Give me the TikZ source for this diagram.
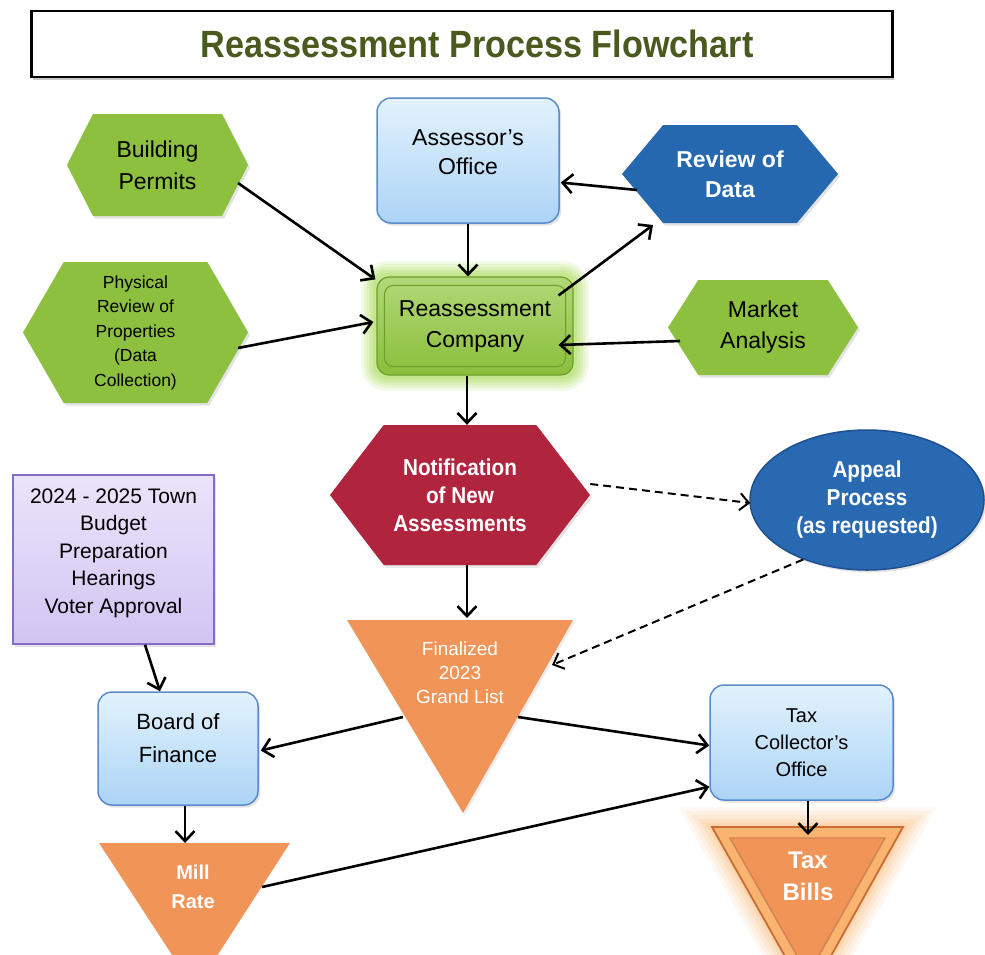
\documentclass[tikz,border=0pt]{standalone}
\usepackage{fontspec}
\setmainfont{Liberation Sans}
\newfontfamily\narrowfont[FakeStretch=0.9]{Liberation Sans}
\usetikzlibrary{arrows.meta,shapes.symbols,shapes.geometric,calc,shadows}
\definecolor{titlegreen}{RGB}{74,90,30}
\definecolor{hexgreen}{RGB}{141,192,62}
\definecolor{hexblue}{RGB}{38,104,176}
\definecolor{hexred}{RGB}{176,36,62}
\definecolor{appealblue}{RGB}{40,105,178}
\definecolor{appealedge}{RGB}{30,80,145}
\definecolor{boxtop}{RGB}{226,242,253}
\definecolor{boxbot}{RGB}{172,212,246}
\definecolor{boxedge}{RGB}{90,140,205}
\definecolor{lavtop}{RGB}{235,228,250}
\definecolor{lavbot}{RGB}{210,196,243}
\definecolor{lavedge}{RGB}{130,108,200}
\definecolor{orangefill}{RGB}{240,148,88}
\definecolor{orangelight}{RGB}{248,180,112}
\definecolor{orangeedge}{RGB}{200,108,52}
\definecolor{rcgreen}{RGB}{145,200,62}
\definecolor{rcedge}{RGB}{108,158,42}
\definecolor{glowgreen}{RGB}{180,222,110}
\definecolor{gloworange}{RGB}{250,190,130}
\begin{document}
\begin{tikzpicture}[x=1pt,y=-1pt,
  arr/.style={line width=2.6pt, -{Straight Barb[length=10pt,width=19pt]}},
  dasharr/.style={line width=2pt, dash pattern=on 8pt off 5pt, -{Straight Barb[length=9pt,width=17pt]}},
  shad/.style={drop shadow={opacity=0.22,shadow xshift=2pt,shadow yshift=-2.5pt}},
  hexnode/.style={signal, signal to=west and east, inner sep=0pt, align=center, shad},
  greenhex/.style={hexnode, fill=hexgreen, text=black},
  bluebox/.style={rectangle, rounded corners=14pt, draw=boxedge, line width=1.5pt, top color=boxtop, bottom color=boxbot, align=center, inner sep=0pt, shad},
  whitetxt/.style={text=white, align=center, inner sep=0pt},
]
\useasboundingbox (0,0) rectangle (985,954);
\clip (0,0) rectangle (985,954);

% title
\node[draw=black, line width=2.5pt, minimum width=861pt, minimum height=66pt, inner sep=0pt, fill=white,
  drop shadow={opacity=0.45,shadow xshift=1.5pt,shadow yshift=-2.5pt},
  font=\narrowfont\bfseries\fontsize{38}{40}\selectfont, text=titlegreen] (title) at (462,44) {\hspace*{30pt}Reassessment Process Flowchart};

% green hexagons
\node[greenhex, minimum width=181pt, minimum height=102pt, signal pointer angle=126,
  font=\fontsize{23}{32}\selectfont] (bp) at (157.5,165) {Building\\Permits};
\node[greenhex, minimum width=225pt, minimum height=141pt, signal pointer angle=120,
  font=\fontsize{17.5}{24.5}\selectfont] (pr) at (135.5,332.5) {Physical\\Review of\\Properties\\(Data\\Collection)};
\node[greenhex, minimum width=190pt, minimum height=95pt, signal pointer angle=115,
  font=\fontsize{23}{31}\selectfont] (ma) at (763,327.5) {Market\\Analysis};

% Assessor's office
\node[bluebox, minimum width=182pt, minimum height=125pt, text depth=16pt,
  font=\fontsize{23}{29}\selectfont] (ao) at (468,160.5) {Assessor’s\\Office};

% Review of data
\node[hexnode, fill=hexblue, text=white, minimum width=216pt, minimum height=98pt, signal pointer angle=100,
  font=\bfseries\fontsize{23}{30}\selectfont] (rd) at (730,174) {Review of\\Data};

% Reassessment company with soft glow
\foreach \d/\o in {16/0.16,13/0.2,10/0.25,7/0.3,4/0.35}{
  \fill[glowgreen, opacity=\o, rounded corners=10pt+\d pt] (377-\d,277-\d) rectangle (573+\d,375+\d);
}
\node[rectangle, rounded corners=12pt, draw=rcedge, line width=1.2pt, top color=rcgreen!70!white, bottom color=rcgreen!95!black,
  minimum width=196pt, minimum height=98pt, inner sep=0pt, align=center,
  font=\fontsize{23}{31}\selectfont] (rc) at (475,326) {Reassessment\\Company};
\draw[rcedge, line width=1pt, rounded corners=9pt] ($(rc.north west)+(8,9)$) rectangle ($(rc.south east)+(-8,-9)$);

% Notification
\node[hexnode, fill=hexred, text=white, minimum width=260pt, minimum height=140pt, signal pointer angle=105,
  font=\narrowfont\bfseries\fontsize{23}{28}\selectfont] (nt) at (460,495) {Notification\\of New\\Assessments};

% Appeal
\node[ellipse, fill=appealblue, draw=appealedge, line width=1.5pt, minimum width=234pt, minimum height=140pt,
  inner sep=0pt, align=center, text=white, shad,
  font=\narrowfont\bfseries\fontsize{23}{28}\selectfont] (ap) at (867,500) {Appeal\\Process\\(as requested)};

% Budget box
\node[rectangle, draw=lavedge, line width=1.5pt, top color=lavtop, bottom color=lavbot, shad,
  minimum width=201pt, minimum height=169pt, inner sep=0pt, align=center, text depth=17pt,
  font=\fontsize{21}{27.6}\selectfont] (bu) at (113.5,559.5) {2024 - 2025 Town\\Budget\\Preparation\\Hearings\\Voter Approval};

% Board of finance, Tax collector
\node[bluebox, minimum width=160pt, minimum height=113pt, text depth=20pt,
  font=\fontsize{22}{33}\selectfont] (bf) at (178,748.5) {Board of\\Finance};
\node[bluebox, minimum width=183pt, minimum height=115pt,
  font=\fontsize{20}{27}\selectfont] (tc) at (801.5,742.5) {Tax\\Collector’s\\Office};

% Finalized grand list triangle
\fill[orangefill, drop shadow={opacity=0.15,shadow xshift=2pt,shadow yshift=-2pt}] (347,620) -- (573,620) -- (463,813) -- cycle;
\node[whitetxt, font=\fontsize{19}{24}\selectfont] (fl) at (460,673) {Finalized\\2023\\Grand List};

% Mill rate triangle
\fill[orangefill] (99,843) -- (290,843) -- (195,990) -- cycle;
\node[whitetxt, font=\bfseries\fontsize{20}{29}\selectfont] (mr) at (193,887) {Mill\\Rate};

% Tax bills triangle with soft glow and double border
\foreach \d/\o in {20/0.10,16/0.13,12/0.17,8/0.22,4/0.28}{
  \fill[gloworange, opacity=\o] (712-1.7*\d,827-\d) -- (903+1.7*\d,827-\d) -- (808,997+2*\d) -- cycle;
}
\fill[orangelight, draw=orangeedge, line width=1.8pt] (712,827) -- (903,827) -- (808,997) -- cycle;
\fill[orangefill, draw=orangeedge!85, line width=1.4pt] (730,838) -- (885,838) -- (808,975) -- cycle;
\node[whitetxt, font=\bfseries\fontsize{24}{32}\selectfont] (tb) at (808,876) {Tax\\Bills};

% connectors
\draw[arr] ($(bp.center)+(80.5,18)$) -- ($(rc.north west)+(-1,3)$);
\draw[arr] ($(pr.center)+(102.5,15.5)$) -- ($(rc.west)+(-3,-4)$);
\draw[arr] (ao.south) -- (ao.south |- rc.north);
\draw[arr] ($(rd.center)+(-93,16)$) -- ($(ao.east)+(1,22)$);
\draw[arr] ($(rc.north east)+(-15,19)$) -- ($(rd.center)+(-77,51)$);
\draw[arr] ($(ma.center)+(-83,13.5)$) -- ($(rc.east)+(-15,19)$);
\coordinate (c7) at ($(rc.south)+(-8,0)$);
\draw[arr] (c7) -- (c7 |- nt.north);
\coordinate (c8) at ($(nt.south)+(7,0)$);
\draw[arr] (c8) -- ($(fl.center)+(7,-55)$);
\draw[dasharr] ($(nt.east)+(0,-11)$) -- ($(ap.west)+(1,3)$);
\draw[dasharr] (ap.223) -- ($(fl.center)+(92,-8)$);
\draw[arr] ($(bu.south)+(31.5,0)$) -- ($(bf.north)+(-18,0)$);
\draw[arr] ($(fl.center)+(-57,44)$) -- ($(bf.east)+(2,2)$);
\draw[arr] ($(fl.center)+(58,44)$) -- ($(tc.west)+(0,3)$);
\coordinate (c14) at ($(bf.south)+(7,0)$);
\draw[arr] (c14) -- ($(mr.center)+(-8,-44)$);
\draw[arr] ($(mr.center)+(69,0)$) -- ($(tc.south west)+(0,-14)$);
\coordinate (c16) at ($(tc.south)+(6.5,0)$);
\draw[arr] (c16) -- ($(tb.center)+(0,-41)$);
\end{tikzpicture}
\end{document}
